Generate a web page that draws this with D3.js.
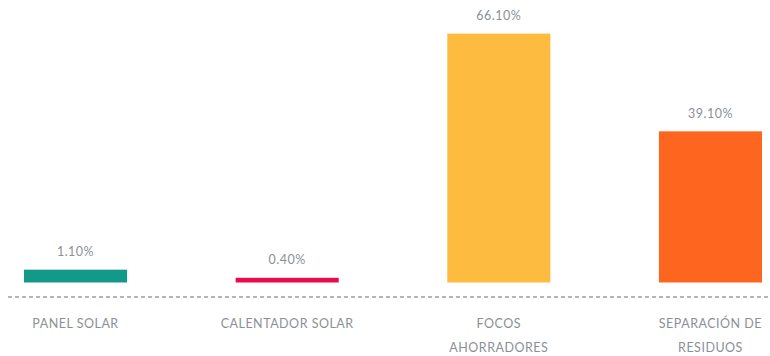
<!DOCTYPE html>
<html>
<head>
<meta charset="utf-8">
<script src="https://cdn.jsdelivr.net/npm/d3@7/dist/d3.min.js"></script>
<style>
  html, body { margin: 0; padding: 0; background: #fff; }
  svg { display: block; }
  text { font-family: Lato, "Open Sans", sans-serif; letter-spacing: 0.5px; }
</style>
</head>
<body>
<svg id="chart" width="770" height="356"></svg>
<script>
// Survey results: share of households using each eco practice (%)
const categories = ["PANEL SOLAR", "CALENTADOR SOLAR", "FOCOS AHORRADORES", "SEPARACIÓN DE RESIDUOS"];
const categoryLines = [["PANEL SOLAR"], ["CALENTADOR SOLAR"], ["FOCOS", "AHORRADORES"], ["SEPARACIÓN DE", "RESIDUOS"]];
const values = [1.10, 0.40, 66.10, 39.10];
const valueLabels = ["1.10%", "0.40%", "66.10%", "39.10%"];
const colors = ["#12998a", "#ea0a4c", "#fdbc40", "#fe651f"];

const svg = d3.select("#chart");
const baseline = 282.5;

const x = d3.scaleBand()
  .domain(categories)
  .range([24, 762])
  .paddingInner(0.513)
  .paddingOuter(0);

// Value axis with an expanded low range so very small shares stay visible
const y = d3.scaleLinear()
  .domain([0, 1.2, 70])
  .range([baseline, baseline - 14, baseline - 263]);

const data = categories.map((c, i) => ({
  cat: c, lines: categoryLines[i], value: values[i], label: valueLabels[i], color: colors[i]
}));

// Bars
svg.append("g").selectAll("rect")
  .data(data)
  .join("rect")
  .attr("x", d => x(d.cat))
  .attr("width", x.bandwidth())
  .attr("y", d => y(d.value))
  .attr("height", d => baseline - y(d.value))
  .attr("fill", d => d.color);

// Value labels above bars
svg.append("g").selectAll("text")
  .data(data)
  .join("text")
  .attr("x", d => x(d.cat) + x.bandwidth() / 2)
  .attr("y", d => y(d.value) - 13.5)
  .attr("text-anchor", "middle")
  .attr("font-size", "12.5px")
  .attr("fill", "#8b9096")
  .text(d => d.label);

// Dashed baseline
svg.append("line")
  .attr("x1", 8).attr("x2", 770)
  .attr("y1", 297).attr("y2", 297)
  .attr("stroke", "#9a9ea3")
  .attr("stroke-width", 1.5)
  .attr("stroke-dasharray", "4,3");

// Category labels (possibly two lines)
const catG = svg.append("g").selectAll("text")
  .data(data)
  .join("text")
  .attr("text-anchor", "middle")
  .attr("font-size", "12.5px")
  .attr("fill", "#8b9096");

catG.selectAll("tspan")
  .data(d => d.lines.map(l => ({ l, cx: x(d.cat) + x.bandwidth() / 2 })))
  .join("tspan")
  .attr("x", t => t.cx)
  .attr("y", (t, i) => 327.5 + i * 24)
  .text(t => t.l);
</script>
</body>
</html>
